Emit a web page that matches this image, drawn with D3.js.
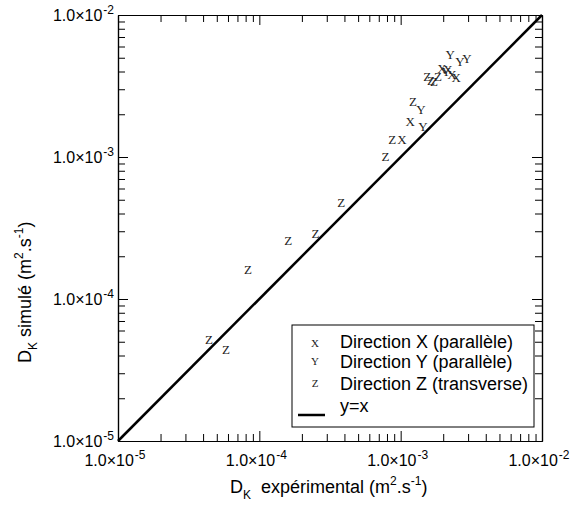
<!DOCTYPE html>
<html><head><meta charset="utf-8">
<script src="https://cdn.jsdelivr.net/npm/d3@7"></script>
<style>body{margin:0;background:#fff}svg{display:block}</style>
</head><body>
<svg id="c" width="579" height="506"></svg>
<script>
// Data (D_K experimental, D_K simulated)
const dirXExp = [1.02e-3, 1.17e-3, 1.96e-3, 2.16e-3, 2.31e-3, 2.47e-3];
const dirXSim = [1.32e-3, 1.76e-3, 4.17e-3, 4.10e-3, 3.78e-3, 3.60e-3];
const dirYExp = [1.44e-3, 1.39e-3, 2.24e-3, 2.63e-3, 2.95e-3, 2.10e-3];
const dirYSim = [1.63e-3, 2.14e-3, 5.23e-3, 4.67e-3, 4.90e-3, 3.97e-3];
const dirZExp = [4.4e-5, 5.8e-5, 8.3e-5, 1.6e-4, 2.5e-4, 3.8e-4, 7.8e-4, 8.7e-4, 1.22e-3, 1.54e-3, 1.64e-3, 1.72e-3, 1.84e-3];
const dirZSim = [5.2e-5, 4.4e-5, 1.6e-4, 2.56e-4, 2.9e-4, 4.8e-4, 1.0e-3, 1.32e-3, 2.44e-3, 3.66e-3, 3.43e-3, 3.37e-3, 3.66e-3];
const majorTicks = [1e-5, 1e-4, 1e-3, 1e-2];
const tickMant = ["1.0×10", "1.0×10", "1.0×10", "1.0×10"];
const tickExp = ["-5", "-4", "-3", "-2"];
const legendLabels = ["Direction X (parallèle)", "Direction Y (parallèle)", "Direction Z (transverse)", "y=x"];
const seriesSymbols = ["X", "Y", "Z"];
const diagLine = [1e-5, 1e-2];

const svg = d3.select("#c");
const L = 118, R = 542, T = 15, B = 441;
const x = d3.scaleLog().domain([1e-5, 1e-2]).range([L, R]);
const y = d3.scaleLog().domain([1e-5, 1e-2]).range([B, T]);

const minorTicks = [];
for (let d = -5; d < -2; d++) for (let k = 2; k <= 9; k++) minorTicks.push(k * Math.pow(10, d));

const font = "'Liberation Sans', Arial, sans-serif";
const stroke = "#000";

function drawAxis(axisGen, transform) {
  const gMinor = svg.append("g").attr("transform", transform)
    .call(axisGen(minorTicks, 7));
  const gMajor = svg.append("g").attr("transform", transform)
    .call(axisGen(majorTicks, 10));
  [gMinor, gMajor].forEach(g => {
    g.select(".domain").attr("stroke", stroke).attr("stroke-width", 1.2);
    g.selectAll(".tick line").attr("stroke", stroke).attr("stroke-width", 1);
    g.selectAll(".tick text").remove();
  });
}
drawAxis((v, s) => d3.axisBottom(x).tickValues(v).tickSize(-s).tickSizeOuter(0).tickFormat(""), `translate(0,${B})`);
drawAxis((v, s) => d3.axisTop(x).tickValues(v).tickSize(-s).tickSizeOuter(0).tickFormat(""), `translate(0,${T})`);
drawAxis((v, s) => d3.axisLeft(y).tickValues(v).tickSize(-s).tickSizeOuter(0).tickFormat(""), `translate(${L},0)`);
drawAxis((v, s) => d3.axisRight(y).tickValues(v).tickSize(-s).tickSizeOuter(0).tickFormat(""), `translate(${R},0)`);

// tick labels
majorTicks.forEach((v, i) => {
  const t = svg.append("text").attr("x", x(v) - 3).attr("y", 466)
    .attr("text-anchor", "middle").attr("font-family", font).attr("font-size", 16).attr("fill", "#000");
  t.append("tspan").text(tickMant[i]);
  t.append("tspan").attr("font-size", 12).attr("dx", 1).attr("dy", -7).text(tickExp[i]);
  const u = svg.append("text").attr("x", 114).attr("y", y(v) + 6)
    .attr("text-anchor", "end").attr("font-family", font).attr("font-size", 16).attr("fill", "#000");
  u.append("tspan").text(tickMant[i]);
  u.append("tspan").attr("font-size", 12).attr("dx", 1).attr("dy", -7).text(tickExp[i]);
});

// axis titles
function title(t, lead) {
  t.append("tspan").text("D");
  t.append("tspan").attr("font-size", 12).attr("dy", 6).text("K");
  t.append("tspan").attr("dy", -6).text(lead);
  t.append("tspan").attr("font-size", 12).attr("dy", -8).text("2");
  t.append("tspan").attr("dy", 8).text(".s");
  t.append("tspan").attr("font-size", 12).attr("dy", -8).text("-1");
  t.append("tspan").attr("dy", 8).text(")");
}
title(svg.append("text").attr("x", 230).attr("y", 493)
  .attr("font-family", font).attr("font-size", 18).attr("fill", "#000"), "\u00a0 expérimental (m");
title(svg.append("text").attr("transform", "translate(31,363) rotate(-90)")
  .attr("font-family", font).attr("font-size", 18).attr("fill", "#000"), " simulé (m");

// y = x line
svg.append("line")
  .attr("x1", x(diagLine[0])).attr("y1", y(diagLine[0]))
  .attr("x2", x(diagLine[1])).attr("y2", y(diagLine[1]))
  .attr("stroke", "#000").attr("stroke-width", 2.5);

// markers
const series = [
  {sym: seriesSymbols[0], ex: dirXExp, sim: dirXSim},
  {sym: seriesSymbols[1], ex: dirYExp, sim: dirYSim},
  {sym: seriesSymbols[2], ex: dirZExp, sim: dirZSim}
];
const serif = "'Liberation Serif', 'Times New Roman', serif";
series.forEach(s => {
  svg.append("g").selectAll("text").data(s.ex.map((v, i) => [v, s.sim[i]])).join("text")
    .attr("x", d => x(d[0])).attr("y", d => y(d[1])).attr("dy", "0.33em")
    .attr("text-anchor", "middle").attr("font-family", serif).attr("font-size", 13)
    .attr("fill", "#222").text(s.sym);
});

// legend
const lg = svg.append("g");
lg.append("rect").attr("x", 292).attr("y", 325).attr("width", 242).attr("height", 102)
  .attr("fill", "#fff").attr("stroke", "#000").attr("stroke-width", 1);
const markY = [343.5, 361.5, 383.5];
const textY = [348, 368, 390, 412];
seriesSymbols.forEach((s, i) => {
  lg.append("text").attr("x", 315).attr("y", markY[i]).attr("dy", "0.33em")
    .attr("text-anchor", "middle").attr("font-family", serif).attr("font-size", 11).attr("fill", "#222").text(s);
});
legendLabels.forEach((l, i) => {
  lg.append("text").attr("x", 340).attr("y", textY[i]).attr("font-family", font).attr("font-size", 18)
    .attr("fill", "#000").text(l);
});
lg.append("line").attr("x1", 298).attr("x2", 325).attr("y1", 415).attr("y2", 415)
  .attr("stroke", "#000").attr("stroke-width", 2.5);
</script>
</body></html>
